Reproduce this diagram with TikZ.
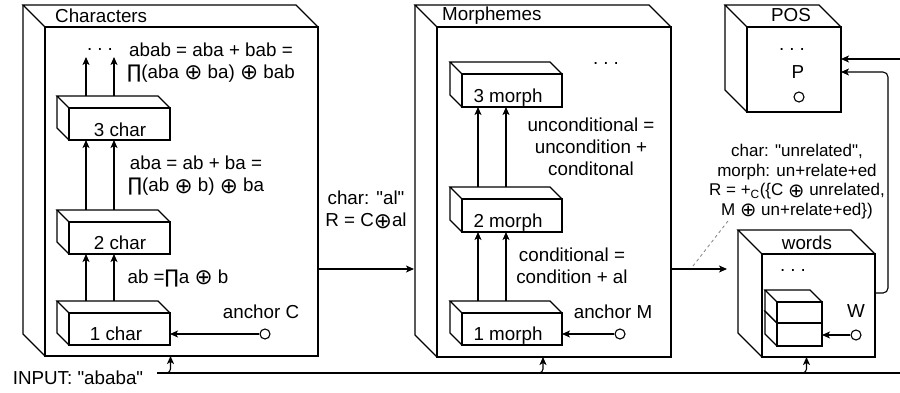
\documentclass[tikz,border=0pt]{standalone}
\usepackage{fontspec}
\usepackage{graphicx}
\setmainfont{Liberation Sans}[Ligatures=TeXOff]
\newfontfamily\symf{DejaVu Sans}
\usetikzlibrary{arrows.meta,calc}
\newcommand{\op}{\raisebox{-0.08em}{\scalebox{1.15}{\symf ⊕}}}
\newcommand{\prodsym}{{\symf ∏}}
\tikzset{
  ln/.style={line width=1.1pt},
  arr/.style={line width=1.1pt,-{Stealth[length=8pt,width=7pt,inset=2pt]}},
  face/.style={draw,line width=1.1pt,fill=white,inner sep=0pt,outer sep=0pt},
  txt/.style={inner sep=0pt,align=center,font=\fontsize{18.8}{22}\selectfont},
  small/.style={inner sep=0pt,align=center,font=\fontsize{17}{19.8}\selectfont},
  anc/.style={draw,circle,line width=1.1pt,minimum size=10pt,inner sep=0pt,fill=white}
}
\newcommand{\mkcube}[6]{%
  \fill[white] ({#2},{#5}) -- ({#2-#6},{#5-#6}) -- ({#2-#6},{#3-#6}) -- ({#4-#6},{#3-#6}) -- ({#4},{#3}) -- ({#4},{#5}) -- cycle;
  \node[face,minimum width={(#4-#2)*1pt},minimum height={(#5-#3)*1pt},anchor=north west] (#1) at ({#2},{#3}) {};
  \draw[ln] (#1.north west) -- ++({-#6},{-#6}) -- ($(#1.north east)+({-#6},{-#6})$) -- (#1.north east);
  \draw[ln] ($(#1.north west)+({-#6},{-#6})$) -- ($(#1.south west)+({-#6},{-#6})$) -- (#1.south west);
}
\begin{document}
\begin{tikzpicture}[x=1pt,y=-1pt]
\useasboundingbox[fill=white] (0,0) rectangle (900,392);
% big containers
\mkcube{chars}{45}{27}{318}{356}{22}
\mkcube{morphs}{437}{27}{671}{357}{22}
\mkcube{pos}{747}{27}{841}{112}{22}
\mkcube{words}{762}{254}{875}{357}{24}
% inner cubes
\mkcube{cone}{69}{313}{170}{345}{12}
\mkcube{ctwo}{69}{222}{170}{254}{12}
\mkcube{cthree}{69}{108}{170}{140}{12}
\mkcube{mone}{462}{313}{562}{345}{12}
\mkcube{mtwo}{462}{199}{562}{232}{12}
\mkcube{mthree}{462}{74}{562}{107}{12}
\mkcube{wbot}{777}{323}{822}{346}{12}
\mkcube{wtop}{777}{302}{822}{323}{12}
% titles
\node[txt,anchor=west] (tchars) at (55,15.5) {Characters};
\node[txt,anchor=west] (tmorph) at (442,15.5) {Morphemes};
\node[txt] (tpos) at (791,15.5) {POS};
\node[txt] (twords) at (807,243) {words};
% cube labels
\node[txt] (lcone) at (116,334) {1 char};
\node[txt] (lctwo) at (120,243) {2 char};
\node[txt] (lcthree) at (120,130) {3 char};
\node[txt] (lmone) at (508,336) {1 morph};
\node[txt] (lmtwo) at (508,223) {2 morph};
\node[txt] (lmthree) at (508,98) {3 morph};
% dots
\node[txt] (cdots) at (100,49) {.\hspace{5pt}.\hspace{5pt}.};
\node[txt] (mdots) at (606,63) {.\hspace{5pt}.\hspace{5pt}.};
\node[txt] (pdots) at (792,49) {.\hspace{5pt}.\hspace{5pt}.};
\node[txt] (wdots) at (793,270) {.\hspace{5pt}.\hspace{5pt}.};
% formulas
\node[txt] (fabab) at (211,62.5) {abab = aba + bab =\\\prodsym(aba \op{} ba) \op{} bab};
\node[txt] (faba) at (196,176) {aba = ab + ba =\\\prodsym(ab \op{} b) \op{} ba};
\node[txt] (fab) at (178,278) {ab =\prodsym a \op{} b};
\node[txt] (fal) at (366,210) {char: "al"\\R = C\op al};
\node[txt] (func) at (591,147) {unconditional =\\uncondition +\\conditonal};
\node[txt] (fcond) at (572,266) {conditional =\\condition + al};
\node[small] (rtext) at (797,181.5) {char: "unrelated",\\morph: un+relate+ed\\R = +\textsubscript{C}(\{C \op{} unrelated,\\M \op{} un+relate+ed\})};
% anchors
\node[txt] (tac) at (261,312) {anchor C};
\node[txt] (tam) at (613,312) {anchor M};
\node[txt] (tw) at (856,311) {W};
\node[txt] (tp) at (798,72) {P};
\node[anc] (ac) at (265,334) {};
\node[anc] (am) at (620,334) {};
\node[anc] (aw) at (856,335) {};
\node[anc] (ap) at (799,97) {};
\draw[arr] (ac) -- (ac -| cone.east);
\draw[arr] (am) -- (am -| mone.east);
\draw[arr] (aw) -- (aw -| wbot.east);
% vertical arrows characters
\foreach \dx in {17,45}{
  \draw[arr] ($(cone.north west)+(\dx,-12)$) -- ($(ctwo.south west)+(\dx,0)$);
  \draw[arr] ($(ctwo.north west)+(\dx,-12)$) -- ($(cthree.south west)+(\dx,0)$);
  \draw[arr] ($(cthree.north west)+(\dx,-12)$) -- ($(cthree.north west)+(\dx,-51)$);
}
% vertical arrows morphemes
\foreach \dx in {16,44}{
  \draw[arr] ($(mone.north west)+(\dx,-12)$) -- ($(mtwo.south west)+(\dx,0)$);
  \draw[arr] ($(mtwo.north west)+(\dx,-12)$) -- ($(mthree.south west)+(\dx,0)$);
}
% level connectors
\draw[arr] ($(chars.south east)+(0,-87)$) -- ($(morphs.south west)+(-23,-88)$);
\draw[arr] ($(morphs.south east)+(0,-88)$) -- ($(words.south west)+(-35,-88)$);
\coordinate (dashA) at (693,266);
\coordinate (dashB) at (728,221);
\draw[gray,dashed,line width=0.8pt] (dashA) -- (dashB);
% to POS
\coordinate (rin) at (900,59);
\draw[arr] (rin) -- (pos.east |- rin);
\draw[arr,rounded corners=5pt] ($(words.north east)+(0,39)$) -- ++(13,0) |- ($(pos.south east)+(0,-40)$);
% input
\node[txt] (input) at (78,378) {INPUT: "ababa"};
\coordinate (inL) at (157,373);
\coordinate (inR) at (900,373);
\draw[ln] (inL) -- (inR);
\draw[arr,rounded corners=4pt] (162,373) -| ($(chars.south)+(-11,0)$);
\draw[arr,rounded corners=4pt] (535,373) -| ($(morphs.south)+(-11,0)$);
\draw[arr,rounded corners=4pt] (799,373) -| ($(words.south)+(-12,0)$);
\end{tikzpicture}
\end{document}
